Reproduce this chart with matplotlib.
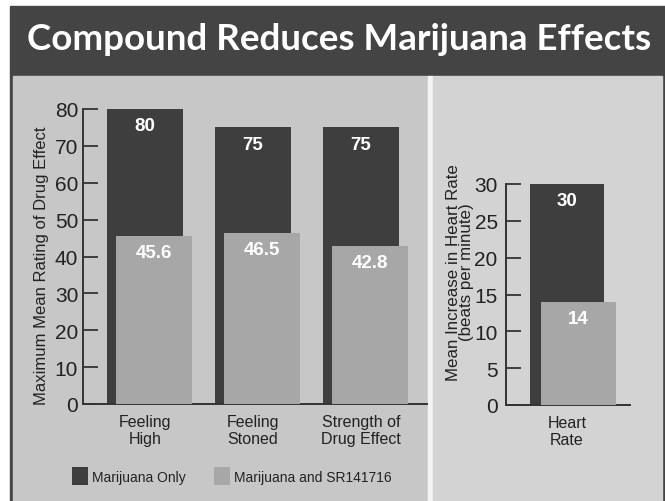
import matplotlib.pyplot as plt
from matplotlib.patches import Rectangle
import numpy as np

# data
categories = ['Feeling\nHigh', 'Feeling\nStoned', 'Strength of\nDrug Effect']
marijuana_only = [80, 75, 75]
marijuana_sr = [45.6, 46.5, 42.8]
hr_category = ['Heart\nRate']
hr_marijuana_only = [30]
hr_marijuana_sr = [14]
series_names = ['Marijuana Only', 'Marijuana and SR141716']

DARK = '#3e3e3e'
LIGHT = '#a7a7a7'
W, H = 665, 502

plt.rcParams['font.family'] = ['Liberation Sans', 'DejaVu Sans']

fig = plt.figure(figsize=(W / 100, H / 100), dpi=100, facecolor='white')


def px_rect(x0, y0, x1, y1, color):
    # rectangle in pixel coords measured from top-left
    fig.patches.append(Rectangle((x0 / W, 1 - y1 / H), (x1 - x0) / W, (y1 - y0) / H,
                                 transform=fig.transFigure, color=color, zorder=-5))


def px_axes(x0, ytop, x1, ybot):
    return fig.add_axes([x0 / W, 1 - ybot / H, (x1 - x0) / W, (ybot - ytop) / H])


# background panels
px_rect(10, 7, 665, 502, '#444444')
px_rect(13, 77, 428, 502, '#c7c7c7')
px_rect(428, 77, 433, 502, '#f4f4f4')
px_rect(433, 77, 662, 502, '#d3d3d3')

fig.text(339 / W, 1 - 40 / H, 'Compound Reduces Marijuana Effects', color='white',
         fontsize=26.5, fontweight='bold', family='Lato', ha='center', va='center')


def style_axes(ax, pad):
    ax.set_facecolor('none')
    for s in ['top', 'right']:
        ax.spines[s].set_visible(False)
    for s in ['left', 'bottom']:
        ax.spines[s].set_color('#333333')
        ax.spines[s].set_linewidth(1.4)
    ax.tick_params(axis='y', direction='in', length=11, width=1.3, color='#333333',
                   labelsize=15, labelcolor='#222222', pad=pad)
    ax.tick_params(axis='x', length=0, labelsize=11.5, labelcolor='#222222', pad=7.5)


def draw_bars(ax, cats, dark_vals, light_vals, width, offset):
    x = np.arange(len(cats))
    b1 = ax.bar(x, dark_vals, width, color=DARK, zorder=2, clip_on=False)
    b2 = ax.bar(x + offset, light_vals, width, color=LIGHT, zorder=3, clip_on=False)
    for bars, vals in [(b1, dark_vals), (b2, light_vals)]:
        for rect, v in zip(bars, vals):
            ax.annotate(f'{v:g}', (rect.get_x() + rect.get_width() / 2, v),
                        xytext=(0, -12), textcoords='offset points', ha='center', va='center',
                        color='white', fontsize=13.5, fontweight='bold', zorder=4)
    ax.set_xticks(x)
    ax.set_xticklabels(cats, linespacing=1.15)
    return b1, b2


# left panel
ax1 = px_axes(83, 110, 427, 405)
b1, b2 = draw_bars(ax1, categories, marijuana_only, marijuana_sr, 0.70, 0.083)
ax1.set_xlim(-0.574, 2.611)
ax1.set_ylim(0, 80)
ax1.set_yticks(range(0, 81, 10))
style_axes(ax1, 3.5)
ax1.set_ylabel('Maximum Mean Rating of Drug Effect', fontsize=12, color='#222222')
ax1.yaxis.set_label_coords(-0.10, 0.471)

# right panel
ax2 = px_axes(506, 185, 630, 406)
draw_bars(ax2, hr_category, hr_marijuana_only, hr_marijuana_sr, 0.69, 0.106)
ax2.set_xlim(-0.565, 0.583)
ax2.set_ylim(0, 30)
ax2.set_yticks(range(0, 31, 5))
style_axes(ax2, 6)
ax2.set_ylabel('Mean Increase in Heart Rate\n(beats per minute)', fontsize=12.2,
               color='#222222', linespacing=0.8)
ax2.yaxis.set_label_coords(-0.26, 0.604)

# legend
fig.legend([b1[0], b2[0]], series_names, loc='center left',
           bbox_to_anchor=(72 / W, 1 - 477 / H), ncol=2, frameon=False,
           fontsize=10, handlelength=1.15, handleheight=1.55, handletextpad=0.3,
           columnspacing=2.0, borderpad=0, borderaxespad=0, labelcolor='#222222')

fig.savefig('out.png', dpi=100)
